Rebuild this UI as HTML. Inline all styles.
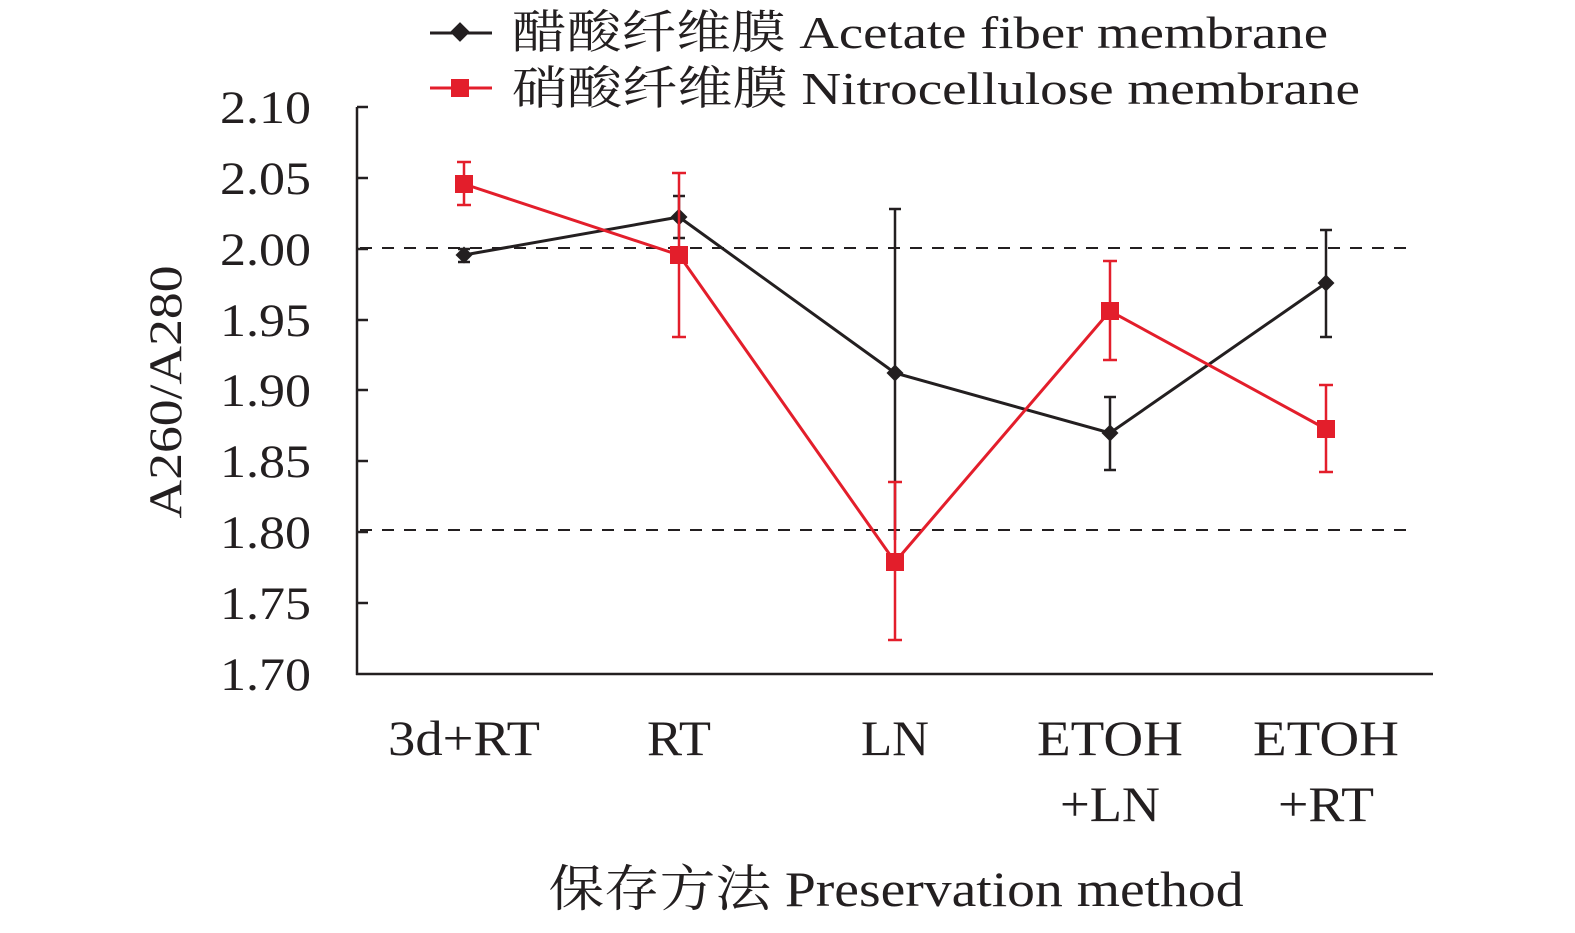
<!DOCTYPE html>
<html><head><meta charset="utf-8"><style>
html,body{margin:0;padding:0;background:#fff;}
svg text{font-family:"Liberation Serif","Noto Serif CJK SC",serif;fill:#231f20;}
</style></head><body>
<svg width="1575" height="928" viewBox="0 0 1575 928" xmlns="http://www.w3.org/2000/svg">
<g font-size="46">
<line x1="430" y1="33" x2="492" y2="33" stroke="#231f20" stroke-width="3"/>
<rect x="453" y="25" width="14" height="14" fill="#231f20" transform="rotate(45 460 32)"/>
<text x="512" y="48" textLength="816" lengthAdjust="spacingAndGlyphs">醋酸纤维膜 Acetate fiber membrane</text>
<line x1="430" y1="88" x2="492" y2="88" stroke="#e31e2b" stroke-width="3"/>
<rect x="451" y="79" width="18" height="18" fill="#e31e2b"/>
<text x="512" y="104" textLength="848" lengthAdjust="spacingAndGlyphs">硝酸纤维膜 Nitrocellulose membrane</text>
</g>
<g stroke="#231f20" stroke-width="2.5">
<line x1="357" y1="107" x2="357" y2="675"/>
<line x1="356" y1="674" x2="1433" y2="674"/>
<line x1="357" y1="107" x2="368" y2="107"/><line x1="357" y1="178" x2="368" y2="178"/>
<line x1="357" y1="249" x2="368" y2="249"/><line x1="357" y1="320" x2="368" y2="320"/>
<line x1="357" y1="390" x2="368" y2="390"/><line x1="357" y1="461" x2="368" y2="461"/>
<line x1="357" y1="532" x2="368" y2="532"/><line x1="357" y1="603" x2="368" y2="603"/>
</g>
<g stroke="#231f20" stroke-width="2" stroke-dasharray="12,10">
<line x1="360" y1="248" x2="1410" y2="248"/>
<line x1="360" y1="530" x2="1410" y2="530"/>
</g>
<g font-size="47">
<text x="220" y="123" textLength="91" lengthAdjust="spacingAndGlyphs">2.10</text>
<text x="220" y="194" textLength="91" lengthAdjust="spacingAndGlyphs">2.05</text>
<text x="220" y="265" textLength="91" lengthAdjust="spacingAndGlyphs">2.00</text>
<text x="220" y="336" textLength="91" lengthAdjust="spacingAndGlyphs">1.95</text>
<text x="220" y="406" textLength="91" lengthAdjust="spacingAndGlyphs">1.90</text>
<text x="220" y="477" textLength="91" lengthAdjust="spacingAndGlyphs">1.85</text>
<text x="220" y="548" textLength="91" lengthAdjust="spacingAndGlyphs">1.80</text>
<text x="220" y="619" textLength="91" lengthAdjust="spacingAndGlyphs">1.75</text>
<text x="220" y="690" textLength="91" lengthAdjust="spacingAndGlyphs">1.70</text>
</g>
<text font-size="47" transform="translate(181 392) rotate(-90)" text-anchor="middle" textLength="253" lengthAdjust="spacingAndGlyphs">A260/A280</text>
<g font-size="50" text-anchor="middle">
<text x="464" y="755" textLength="152" lengthAdjust="spacingAndGlyphs">3d+RT</text>
<text x="679" y="755" textLength="64" lengthAdjust="spacingAndGlyphs">RT</text>
<text x="895" y="755" textLength="68" lengthAdjust="spacingAndGlyphs">LN</text>
<text x="1110" y="755" textLength="146" lengthAdjust="spacingAndGlyphs">ETOH</text>
<text x="1110" y="821" textLength="100" lengthAdjust="spacingAndGlyphs">+LN</text>
<text x="1326" y="755" textLength="146" lengthAdjust="spacingAndGlyphs">ETOH</text>
<text x="1326" y="821" textLength="96" lengthAdjust="spacingAndGlyphs">+RT</text>
<text x="896" y="906" textLength="695" lengthAdjust="spacingAndGlyphs">保存方法 Preservation method</text>
</g>
<g stroke="#231f20" stroke-width="2.5">
<line x1="464" y1="249" x2="464" y2="262"/><line x1="458" y1="249" x2="470" y2="249"/><line x1="458" y1="262" x2="470" y2="262"/>
<line x1="679" y1="196" x2="679" y2="238"/><line x1="673" y1="196" x2="685" y2="196"/><line x1="673" y1="238" x2="685" y2="238"/>
<line x1="895" y1="209" x2="895" y2="540"/><line x1="889" y1="209" x2="901" y2="209"/>
<line x1="1110" y1="397" x2="1110" y2="470"/><line x1="1104" y1="397" x2="1116" y2="397"/><line x1="1104" y1="470" x2="1116" y2="470"/>
<line x1="1326" y1="230" x2="1326" y2="337"/><line x1="1320" y1="230" x2="1332" y2="230"/><line x1="1320" y1="337" x2="1332" y2="337"/>
</g>
<polyline points="464,255 679,217 895,373 1110,433 1326,283" fill="none" stroke="#231f20" stroke-width="3"/>
<g fill="#231f20">
<rect x="458" y="249" width="12" height="12" transform="rotate(45 464 255)"/>
<rect x="673" y="211" width="12" height="12" transform="rotate(45 679 217)"/>
<rect x="889" y="367" width="12" height="12" transform="rotate(45 895 373)"/>
<rect x="1104" y="427" width="12" height="12" transform="rotate(45 1110 433)"/>
<rect x="1320" y="277" width="12" height="12" transform="rotate(45 1326 283)"/>
</g>
<g stroke="#e31e2b" stroke-width="2.5">
<line x1="464" y1="162" x2="464" y2="205"/><line x1="457" y1="162" x2="471" y2="162"/><line x1="457" y1="205" x2="471" y2="205"/>
<line x1="679" y1="173" x2="679" y2="337"/><line x1="672" y1="173" x2="686" y2="173"/><line x1="672" y1="337" x2="686" y2="337"/>
<line x1="895" y1="482" x2="895" y2="640"/><line x1="888" y1="482" x2="902" y2="482"/><line x1="888" y1="640" x2="902" y2="640"/>
<line x1="1110" y1="261" x2="1110" y2="360"/><line x1="1103" y1="261" x2="1117" y2="261"/><line x1="1103" y1="360" x2="1117" y2="360"/>
<line x1="1326" y1="385" x2="1326" y2="472"/><line x1="1319" y1="385" x2="1333" y2="385"/><line x1="1319" y1="472" x2="1333" y2="472"/>
</g>
<polyline points="464,184 679,255 895,562 1110,311 1326,429" fill="none" stroke="#e31e2b" stroke-width="3"/>
<g fill="#e31e2b">
<rect x="455" y="175" width="18" height="18"/><rect x="670" y="246" width="18" height="18"/>
<rect x="886" y="553" width="18" height="18"/><rect x="1101" y="302" width="18" height="18"/>
<rect x="1317" y="420" width="18" height="18"/>
</g>
</svg>
</body></html>
